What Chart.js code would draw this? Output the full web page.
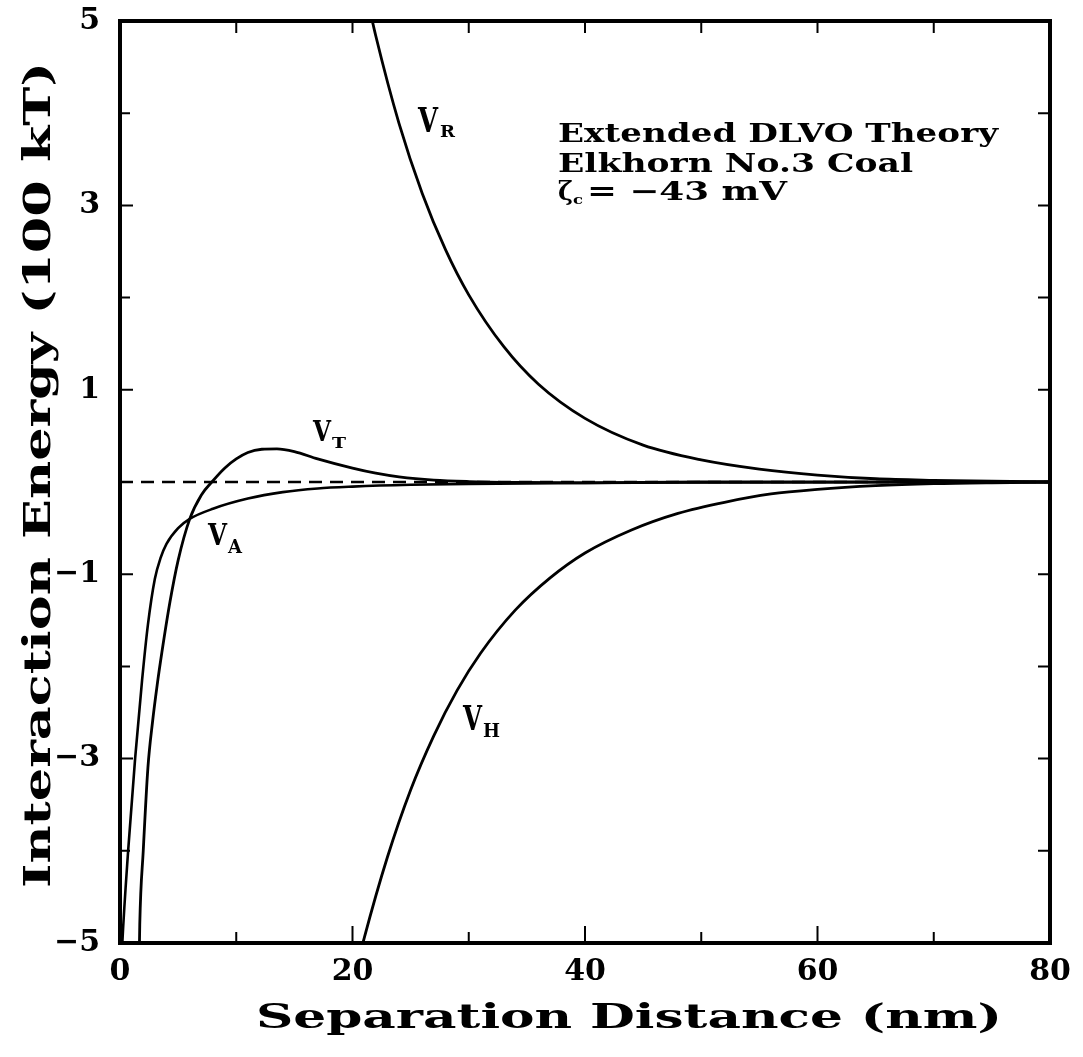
<!DOCTYPE html>
<html>
<head>
<meta charset="utf-8">
<script src="https://cdn.jsdelivr.net/npm/chart.js@4.4.1/dist/chart.umd.min.js"></script>
<style>
  html, body { margin: 0; padding: 0; background: #fff; }
  #wrap { width: 1083px; height: 1057px; }
</style>
</head>
<body>
<div id="wrap"><canvas id="chart" width="1083" height="1057"></canvas></div>
<script>
// значения (x - нм, y - 100 kT)
const vrX = [21, 22, 24, 26, 28, 30, 33, 36, 40, 45, 50, 55, 60, 65, 70, 75, 80];
const vrY = [5.40, 4.84, 3.89, 3.13, 2.52, 2.03, 1.47, 1.06, 0.69, 0.40, 0.24, 0.14, 0.075, 0.035, 0.018, 0.008, 0.004];

const vhX = [20, 21, 23, 25, 27, 29, 31, 34, 37, 40, 44, 48, 52, 56, 60, 65, 70, 75, 80];
const vhY = [-5.46, -4.95, -4.07, -3.34, -2.75, -2.26, -1.86, -1.39, -1.04, -0.77, -0.52, -0.34, -0.22, -0.13, -0.08, -0.04, -0.018, -0.008, -0.003];

const vaX = [0.1, 0.2, 0.7, 1.3, 1.9, 2.4, 3.0, 3.5, 4.0, 5.0, 6.0, 8.0, 11, 14, 17, 20, 25, 30, 40, 50, 60, 80];
const vaY = [-5.3, -5.0, -4.0, -3.0, -2.15, -1.55, -1.05, -0.82, -0.67, -0.50, -0.40, -0.29, -0.18, -0.11, -0.07, -0.05, -0.03, -0.02, -0.01, -0.005, -0.002, 0];

const vtX = [1.6, 1.7, 2.0, 2.4, 2.8, 3.2, 3.6, 4.3, 5.0, 6.0, 7.0, 7.9, 9, 10, 11, 12.2, 13.5, 15, 17, 20, 22, 24, 27, 30, 35, 40, 50, 80];
const vtY = [-5.6, -4.8, -4.0, -3.1, -2.6, -2.2, -1.85, -1.30, -0.85, -0.40, -0.14, 0, 0.15, 0.25, 0.32, 0.355, 0.36, 0.33, 0.25, 0.15, 0.095, 0.055, 0.02, 0.005, -0.005, -0.01, 0, 0];

const zeroX = [0, 80];
const zeroY = [0, 0];

// подписи делений
const xLabelled = [0, 20, 40, 60, 80];
const yLabelled = [-5, -3, -1, 1, 3, 5];

const xTitle = 'Separation Distance (nm)';
const yTitle = 'Interaction Energy (100 kT)';
const noteLines = ['Extended DLVO Theory', 'Elkhorn No.3 Coal'];

function pts(xs, ys) {
    return xs.map((x, i) => ({ x: x, y: ys[i] }));
}

function curve(label, xs, ys, width) {
    return {
        label: label,
        data: pts(xs, ys),
        borderColor: '#000',
        borderWidth: width,
        pointRadius: 0,
        fill: false,
        cubicInterpolationMode: 'monotone'
    };
}

// текст с заданной высотой заглавных и шириной (растягиваем по горизонтали)
function fitText(ctx, text, left, baseline, cap, width, weight) {
    const size = cap / 0.729;
    ctx.font = `${weight} ${size}px "DejaVu Serif"`;
    const w = ctx.measureText(text).width;
    ctx.save();
    ctx.translate(left, baseline);
    ctx.scale(width ? width / w : 1, 1);
    ctx.textBaseline = 'alphabetic';
    ctx.textAlign = 'left';
    ctx.fillStyle = '#000';
    ctx.fillText(text, 0, 0);
    ctx.restore();
}

const framePlugin = {
    id: 'frame',
    afterDraw(chart) {
        const ctx = chart.ctx;
        const a = chart.chartArea;
        const xs = chart.scales.x;
        const ys = chart.scales.y;

        ctx.save();
        ctx.strokeStyle = '#000';

        // деления внутрь рамки
        ctx.lineWidth = 2;
        ctx.beginPath();
        xs.ticks.forEach(t => {
            const px = xs.getPixelForValue(t.value);
            const big = xLabelled.includes(t.value);
            ctx.moveTo(px, a.bottom);
            ctx.lineTo(px, a.bottom - (big ? 17 : 11));
            ctx.moveTo(px, a.top);
            ctx.lineTo(px, a.top + 12);
        });
        ys.ticks.forEach(t => {
            const py = ys.getPixelForValue(t.value);
            const big = yLabelled.includes(t.value);
            ctx.moveTo(a.left, py);
            ctx.lineTo(a.left + (big ? 13 : 10), py);
            ctx.moveTo(a.right, py);
            ctx.lineTo(a.right - 12, py);
        });
        ctx.stroke();

        // рамка
        ctx.lineWidth = 4;
        ctx.strokeRect(a.left, a.top, a.right - a.left, a.bottom - a.top);
        ctx.restore();

        // подписи кривых
        fitText(ctx, 'V', 418, 132, 24, 20, 'bold');
        fitText(ctx, 'R', 440, 137, 12, 15, 'bold');
        fitText(ctx, 'V', 313, 441, 21, 18, 'bold');
        fitText(ctx, 'T', 332, 448, 11, 14, 'bold');
        fitText(ctx, 'V', 208, 545, 22, 19, 'bold');
        fitText(ctx, 'A', 228, 553, 13, 14, 'bold');
        fitText(ctx, 'V', 463, 730, 24, 19, 'bold');
        fitText(ctx, 'H', 483, 737, 14, 17, 'bold');

        // текст в углу
        fitText(ctx, noteLines[0], 558, 142, 19, 440, 'bold');
        fitText(ctx, noteLines[1], 558, 172, 19, 355, 'bold');
        fitText(ctx, 'ζ', 558, 200, 19, 15, 'bold');
        fitText(ctx, 'c', 573, 204, 10, 10, 'bold');
        fitText(ctx, '= −43 mV', 587, 200, 19, 200, 'bold');

        // подписи осей
        fitText(ctx, xTitle, 256, 1028, 25, 746, 'bold');
        ctx.save();
        ctx.translate(50, 888);
        ctx.rotate(-Math.PI / 2);
        fitText(ctx, yTitle, 0, 0, 27, 826, 'bold');
        ctx.restore();
    }
};

const tickFont = { family: '"DejaVu Serif"', size: 30, weight: 'bold' };

new Chart(document.getElementById('chart'), {
    type: 'line',
    data: {
        datasets: [
            {
                label: 'zero',
                data: pts(zeroX, zeroY),
                borderColor: '#000',
                borderWidth: 2.5,
                borderDash: [13, 8],
                pointRadius: 0,
                fill: false
            },
            curve('VR', vrX, vrY, 2.8),
            curve('VH', vhX, vhY, 2.8),
            curve('VA', vaX, vaY, 2.6),
            curve('VT', vtX, vtY, 2.8)
        ]
    },
    options: {
        responsive: false,
        animation: false,
        layout: { padding: { top: 21, right: 33, left: 0, bottom: 0 } },
        plugins: {
            legend: { display: false },
            tooltip: { enabled: false }
        },
        scales: {
            x: {
                type: 'linear',
                min: 0,
                max: 80,
                grid: { display: false, drawTicks: false },
                border: { display: false },
                afterFit: s => { s.height = 114; s.paddingLeft = 0; s.paddingRight = 0; },
                ticks: {
                    stepSize: 10,
                    padding: 11,
                    color: '#000',
                    font: tickFont,
                    maxRotation: 0,
                    autoSkip: false,
                    callback: v => xLabelled.includes(v) ? String(v) : ''
                }
            },
            y: {
                type: 'linear',
                min: -5,
                max: 5,
                grid: { display: false, drawTicks: false },
                border: { display: false },
                afterFit: s => { s.width = 120; s.paddingTop = 0; s.paddingBottom = 0; },
                ticks: {
                    stepSize: 1,
                    padding: 20,
                    color: '#000',
                    font: tickFont,
                    autoSkip: false,
                    callback: v => yLabelled.includes(v) ? (v < 0 ? '−' + Math.abs(v) : String(v)) : ''
                }
            }
        }
    },
    plugins: [framePlugin]
});
</script>
</body>
</html>
